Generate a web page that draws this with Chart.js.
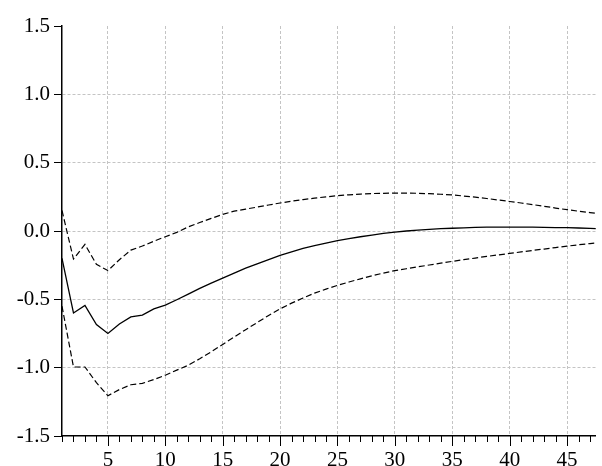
<!DOCTYPE html>
<html>
<head>
<meta charset="utf-8">
<script src="https://cdn.jsdelivr.net/npm/chart.js"></script>
<style>
  html, body { margin: 0; padding: 0; background: #fff; }
  #wrap { width: 602px; height: 466px; }
</style>
</head>
<body>
<div id="wrap"><canvas id="irf" width="602" height="466"></canvas></div>
<script>
// periods 1..48
const periods = Array.from({ length: 48 }, (_, i) => i + 1);

// point response
const response = [
  -0.200, -0.600, -0.545, -0.685, -0.750, -0.680, -0.628, -0.615, -0.570, -0.542,
  -0.503, -0.462, -0.420, -0.381, -0.345, -0.308, -0.272, -0.240, -0.210, -0.178,
  -0.152, -0.128, -0.107, -0.088, -0.071, -0.055, -0.042, -0.030, -0.018, -0.008,
   0.000,  0.006,  0.012,  0.017,  0.020,  0.023,  0.026,  0.028,  0.029,  0.029,
   0.029,  0.028,  0.027,  0.025,  0.024,  0.022,  0.019,  0.017
];

// +/- 2 S.E. bands
const upperBand = [
   0.150, -0.205, -0.098, -0.244, -0.290, -0.210, -0.140, -0.110, -0.075, -0.042,
  -0.010,  0.030,  0.062,  0.092,  0.122,  0.145,  0.160,  0.175,  0.190,  0.205,
   0.218,  0.230,  0.240,  0.250,  0.258,  0.265,  0.270,  0.274,  0.276,  0.277,
   0.277,  0.276,  0.273,  0.269,  0.264,  0.256,  0.248,  0.238,  0.227,  0.216,
   0.205,  0.193,  0.181,  0.168,  0.156,  0.145,  0.135,  0.125
];
const lowerBand = [
  -0.550, -0.995, -0.995, -1.110, -1.205, -1.160, -1.125, -1.115, -1.087, -1.055,
  -1.018, -0.982, -0.935, -0.884, -0.830, -0.776, -0.722, -0.670, -0.618, -0.570,
  -0.528, -0.490, -0.455, -0.425, -0.398, -0.373, -0.350, -0.328, -0.308, -0.290,
  -0.276, -0.262, -0.249, -0.235, -0.222, -0.210, -0.198, -0.186, -0.175, -0.164,
  -0.153, -0.142, -0.132, -0.121, -0.111, -0.101, -0.092, -0.083
];

const yTicks = [-1.5, -1.0, -0.5, 0.0, 0.5, 1.0, 1.5];

const gridGray = '#c4c4c4';
const serif = { family: "'Liberation Serif', 'Times New Roman', serif", size: 21 };

const toPoints = arr => arr.map((v, i) => ({ x: periods[i], y: v }));

// x tick marks: short every period, longer every 5th
const periodTicks = {
  id: 'periodTicks',
  afterDraw(chart) {
    const { ctx, chartArea, scales: { x } } = chart;
    ctx.save();
    ctx.strokeStyle = '#000';
    ctx.lineWidth = 1;
    ctx.beginPath();
    for (let v = 1; v <= 47; v++) {
      const px = Math.round(x.getPixelForValue(v)) + 0.5;
      const len = v % 5 === 0 ? 10 : 6;
      ctx.moveTo(px, chartArea.bottom);
      ctx.lineTo(px, chartArea.bottom + len);
    }
    ctx.stroke();
    ctx.restore();
  }
};

new Chart(document.getElementById('irf'), {
  type: 'line',
  data: {
    datasets: [
      {
        data: toPoints(upperBand),
        borderColor: '#000',
        borderWidth: 1.2,
        borderDash: [6, 3],
        pointRadius: 0,
        tension: 0
      },
      {
        data: toPoints(response),
        borderColor: '#000',
        borderWidth: 1.3,
        pointRadius: 0,
        tension: 0
      },
      {
        data: toPoints(lowerBand),
        borderColor: '#000',
        borderWidth: 1.2,
        borderDash: [6, 3],
        pointRadius: 0,
        tension: 0
      }
    ]
  },
  options: {
    responsive: false,
    animation: false,
    layout: { padding: { top: 26, right: 0, bottom: 0, left: 0 } },
    plugins: {
      legend: { display: false },
      tooltip: { enabled: false }
    },
    scales: {
      x: {
        type: 'linear',
        min: 1,
        max: 47.5,
        afterBuildTicks: scale => {
          scale.ticks = periods.filter(p => p <= 47).map(p => ({ value: p }));
        },
        afterFit: scale => { scale.height = 30; },
        ticks: {
          autoSkip: false,
          maxRotation: 0,
          padding: 12,
          color: '#000',
          font: serif,
          callback: v => (v % 5 === 0 ? String(v) : '')
        },
        grid: {
          drawTicks: false,
          lineWidth: 1,
          color: c => (c.tick && c.tick.value % 5 === 0 ? gridGray : 'transparent')
        },
        border: { display: true, color: '#000', width: 1.5, dash: [3, 2] }
      },
      y: {
        min: -1.5,
        max: 1.5,
        afterBuildTicks: scale => {
          scale.ticks = yTicks.map(v => ({ value: v }));
        },
        afterFit: scale => { scale.width = 62; },
        ticks: {
          padding: 4,
          color: '#000',
          font: serif,
          callback: v => v.toFixed(1)
        },
        grid: {
          drawTicks: true,
          tickLength: 8,
          tickColor: '#000',
          tickWidth: 1,
          lineWidth: 1,
          color: c => (c.tick && Math.abs(c.tick.value) < 1.4 ? gridGray : 'transparent')
        },
        border: { display: true, color: '#000', width: 1.5, dash: [3, 2] }
      }
    }
  },
  plugins: [periodTicks]
});
</script>
</body>
</html>
